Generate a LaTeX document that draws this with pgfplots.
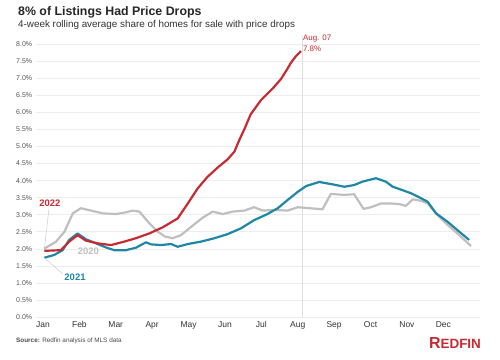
\documentclass[border=0pt]{standalone}
\usepackage{fontspec}
\setmainfont{Liberation Sans}
\usepackage{pgfplots}
\pgfplotsset{compat=1.18}
\definecolor{rred}{HTML}{C62B33}
\definecolor{rteal}{HTML}{1F87A5}
\definecolor{rgray}{HTML}{BFBFBF}
\definecolor{gridc}{HTML}{EDEDED}
\definecolor{ticktext}{HTML}{555555}
\begin{document}
\begin{tikzpicture}
\useasboundingbox (0bp,0bp) rectangle (500bp,360bp);
\fill[white] (0bp,0bp) rectangle (500bp,360bp);
\node[anchor=west, inner sep=0, font=\fontsize{12.4}{14}\selectfont\bfseries, text=black!85] at (18bp,348bp) {8\% of Listings Had Price Drops};
\node[anchor=west, inner sep=0, font=\fontsize{9.9}{11}\selectfont, text=black!80] at (18bp,335bp) {4-week rolling average share of homes for sale with price drops};
\begin{axis}[
  at={(35.7bp,43bp)}, anchor=south west, scale only axis,
  width=444bp, height=281.3bp,
  xmin=-0.2, xmax=12, ymin=0, ymax=8.25,
  axis line style={draw=none},
  major tick length=0pt,
  xtick={0,...,11},
  xticklabels={Jan,Feb,Mar,Apr,May,Jun,Jul,Aug,Sep,Oct,Nov,Dec},
  xticklabel style={font=\fontsize{8.5}{9}\selectfont, text=black!80, yshift=-1bp},
  ytick={0,0.5,...,8},
  yticklabel={\pgfmathprintnumber[fixed,fixed zerofill,precision=1]{\tick}\%},
  yticklabel style={anchor=west, inner sep=0pt, xshift=-19.7bp, font=\fontsize{7}{8}\selectfont, text=ticktext},
  /pgf/number format/assume math mode=true,
  ymajorgrids, grid style={gridc, line width=0.6pt},
  clip=false,
]
\addplot[gray!25, line width=0.8pt] coordinates {(7.12,0) (7.12,8.25)};
% leader lines
\addplot[gray!40, line width=0.5pt] coordinates {(0.165,3.17) (0.04,2.02)};
\addplot[gray!40, line width=0.5pt] coordinates {(0.55,1.26) (0.08,1.70)};
% 2020
\addplot[rgray, line width=2.2pt, line join=round] coordinates {
(0.03,2.00) (0.36,2.21) (0.59,2.50) (0.82,3.04) (1.04,3.19) (1.32,3.12) (1.64,3.04)
(2.01,3.02) (2.28,3.07) (2.46,3.12) (2.65,3.09) (2.92,2.75) (3.16,2.50) (3.35,2.36)
(3.56,2.31) (3.79,2.40) (4.16,2.72) (4.40,2.92) (4.66,3.09) (4.94,3.02) (5.21,3.09)
(5.53,3.12) (5.80,3.22) (6.04,3.12) (6.35,3.14) (6.72,3.12) (7.00,3.22) (7.32,3.19)
(7.68,3.16) (7.91,3.61) (8.28,3.58) (8.55,3.60) (8.81,3.17) (9.01,3.22) (9.29,3.33)
(9.56,3.33) (9.79,3.31) (9.97,3.26) (10.16,3.45) (10.38,3.41) (10.57,3.33) (10.80,3.04)
(11.12,2.70) (11.44,2.40) (11.76,2.08)};
% 2021
\addplot[rteal, line width=2.2pt, line join=round] coordinates {
(0.04,1.74) (0.31,1.82) (0.54,1.96) (0.72,2.26) (0.95,2.45) (1.18,2.28) (1.46,2.16)
(1.73,2.04) (1.96,1.96) (2.28,1.96) (2.55,2.03) (2.83,2.19) (2.97,2.13) (3.24,2.11)
(3.52,2.14) (3.70,2.06) (3.98,2.14) (4.34,2.21) (4.71,2.31) (5.07,2.43) (5.44,2.60)
(5.80,2.84) (6.17,3.02) (6.45,3.19) (6.72,3.43) (7.00,3.67) (7.23,3.84) (7.59,3.96)
(7.96,3.89) (8.28,3.82) (8.55,3.87) (8.78,3.97) (9.15,4.07) (9.42,3.97) (9.61,3.82)
(9.88,3.72) (10.11,3.63) (10.34,3.51) (10.57,3.38) (10.80,3.04) (11.12,2.79)
(11.44,2.50) (11.71,2.26)};
% 2022
\addplot[rred, line width=2.2pt, line join=round] coordinates {
(0.04,1.94) (0.49,1.96) (0.72,2.21) (0.95,2.40) (1.18,2.24) (1.50,2.16) (1.87,2.11)
(2.23,2.21) (2.55,2.31) (2.92,2.45) (3.29,2.63) (3.70,2.89) (3.98,3.33) (4.25,3.77)
(4.52,4.11) (4.84,4.42) (5.07,4.62) (5.26,4.85) (5.39,5.18) (5.53,5.50) (5.71,5.95)
(5.99,6.36) (6.17,6.55) (6.31,6.70) (6.54,6.98) (6.70,7.25) (6.81,7.45) (6.95,7.65)
(7.09,7.80)};
\node[anchor=west, inner sep=0, text=rred, font=\fontsize{8}{9}\selectfont] at (axis cs:7.14,8.18) {Aug. 07};
\node[anchor=west, inner sep=0, text=rred, font=\fontsize{8}{9}\selectfont] at (axis cs:7.14,7.87) {7.8\%};
\node[text=rred, font=\fontsize{9.5}{10}\selectfont\bfseries, inner sep=0] at (axis cs:0.19,3.34) {2022};
\node[text=rgray, font=\fontsize{9.5}{10}\selectfont\bfseries, inner sep=0] at (axis cs:1.245,1.94) {2020};
\node[text=rteal, font=\fontsize{9.5}{10}\selectfont\bfseries, inner sep=0] at (axis cs:0.88,1.18) {2021};
\end{axis}
\node[anchor=west, inner sep=0, font=\fontsize{6.4}{7}\selectfont, text=black!70] at (16bp,19bp) {\textbf{Source:} Redfin analysis of MLS data};
\node[anchor=center, inner sep=0, text=rred, font=\bfseries] at (455bp,17bp) {\fontsize{16}{16}\selectfont R\fontsize{13.5}{14}\selectfont EDFIN};
\end{tikzpicture}
\end{document}
